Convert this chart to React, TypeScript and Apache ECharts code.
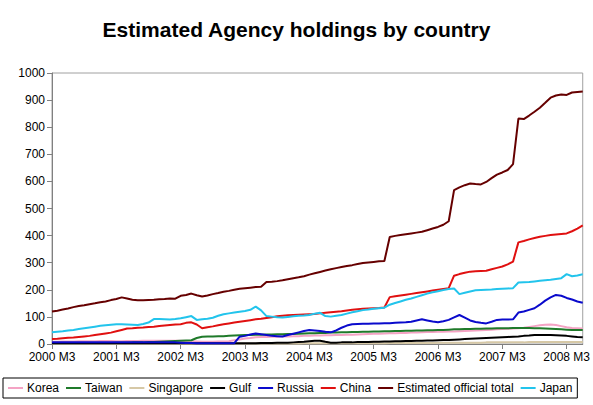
import React, { useEffect, useRef } from "react";
import * as echarts from "echarts";

// Monthly observations, 2000 M3 .. 2008 M6 (USD bn)
const START_YEAR = 2000;
const START_MONTH = 3;
const MONTHS = 100;
const months: string[] = [];
for (let i = 0; i < MONTHS; i++) {
  const m = START_MONTH - 1 + i;
  months.push(`${START_YEAR + Math.floor(m / 12)} M${(m % 12) + 1}`);
}

const korea = [
  8, 8, 9, 9, 9, 10, 10, 10, 10, 11,
  11, 11, 10, 10, 11, 11, 11, 12, 12, 12,
  12, 12, 12, 12, 12, 11, 10, 9, 8, 8,
  8, 9, 9, 10, 14, 17, 20, 22, 25, 26,
  26, 27, 27, 28, 28, 29, 29, 30, 30, 31,
  31, 32, 32, 33, 33, 34, 34, 35, 36, 37,
  38, 38, 39, 40, 40, 41, 41, 42, 42, 43,
  44, 44, 45, 45, 46, 46, 47, 48, 49, 50,
  51, 52, 53, 54, 55, 56, 57, 58, 60, 63,
  66, 69, 71, 72, 70, 66, 62, 59, 58, 57,
];

const taiwan = [
  2, 2, 2, 3, 3, 3, 3, 4, 4, 4,
  4, 4, 5, 5, 5, 6, 6, 6, 7, 7,
  8, 9, 10, 11, 12, 13, 14, 22, 27, 28,
  28, 29, 29, 30, 31, 32, 33, 33, 34, 34,
  35, 35, 36, 36, 37, 37, 38, 39, 40, 40,
  41, 41, 42, 42, 43, 43, 44, 44, 45, 45,
  46, 46, 47, 47, 48, 48, 49, 49, 50, 50,
  51, 51, 52, 52, 53, 54, 54, 55, 55, 56,
  56, 57, 57, 58, 58, 58, 59, 59, 59, 59,
  58, 58, 57, 56, 55, 54, 53, 52, 52, 52,
];

const singapore = [
  1, 1, 1, 1, 1, 1, 1, 1, 1, 1,
  1, 1, 1, 1, 1, 1, 1, 1, 1, 1,
  1, 1, 1, 1, 1, 1, 1, 2, 2, 2,
  2, 2, 2, 2, 2, 2, 2, 2, 2, 2,
  2, 2, 2, 2, 2, 2, 2, 3, 3, 3,
  3, 3, 3, 3, 3, 3, 3, 3, 3, 3,
  3, 3, 3, 4, 4, 4, 4, 4, 4, 4,
  4, 4, 5, 5, 5, 5, 5, 5, 5, 5,
  5, 6, 6, 6, 6, 6, 6, 6, 6, 7,
  7, 7, 7, 7, 7, 7, 7, 7, 7, 7,
];

const gulf = [
  3, 3, 3, 3, 3, 3, 3, 3, 3, 3,
  3, 3, 3, 3, 3, 3, 3, 3, 3, 3,
  3, 3, 3, 3, 3, 3, 3, 3, 3, 3,
  3, 3, 3, 3, 3, 3, 3, 3, 3, 4,
  4, 4, 5, 5, 5, 6, 7, 8, 10, 12,
  12, 8, 5, 5, 6, 6, 6, 7, 7, 7,
  8, 8, 9, 9, 10, 10, 11, 11, 12, 12,
  13, 13, 14, 15, 15, 16, 17, 18, 19, 20,
  21, 22, 23, 24, 25, 26, 27, 28, 30, 31,
  33, 33, 33, 33, 32, 31, 30, 28, 26, 25,
];

const russia = [
  6, 6, 6, 6, 6, 6, 6, 6, 6, 6,
  6, 6, 6, 6, 6, 6, 6, 6, 6, 6,
  6, 6, 6, 6, 5, 4, 4, 3, 3, 3,
  3, 3, 3, 3, 3, 27, 30, 35, 39, 36,
  33, 30, 29, 28, 33, 38, 43, 48, 52, 50,
  48, 45, 43, 50, 60, 68, 73, 74, 75, 75,
  76, 76, 77, 77, 78, 79, 80, 82, 87, 91,
  87, 83, 80, 84, 89, 98, 107, 97, 87, 81,
  78, 76, 82, 89, 90, 90, 91, 116, 120, 126,
  132, 145, 160, 172, 181, 178, 170, 164, 157, 152,
];

const china = [
  18, 19, 21, 23, 24, 26, 28, 30, 33, 36,
  39, 42, 47, 52, 57, 58, 60, 61, 63, 64,
  66, 68, 70, 72, 73, 78, 80, 72, 58, 62,
  65, 69, 73, 76, 79, 82, 85, 88, 91, 93,
  96, 99, 102, 104, 106, 107, 108, 109, 110, 111,
  113, 115, 117, 119, 121, 124, 126, 128, 130, 131,
  132, 133, 135, 173, 176, 179, 182, 185, 188, 191,
  194, 197, 200, 203, 206, 252, 258, 263, 267, 268,
  269, 270, 276, 281, 286, 294, 304, 375, 380, 386,
  391, 396, 399, 402, 404, 406, 408, 416, 426, 438,
];

const officialTotal = [
  120, 123, 127, 131, 136, 140, 143, 147, 150, 154,
  157, 162, 166, 172, 168, 163, 161, 161, 162, 163,
  165, 166, 168, 167, 178, 181, 186, 180, 175, 179,
  184, 188, 193, 196, 200, 204, 206, 208, 210, 211,
  229, 230, 232, 235, 239, 243, 246, 250, 256, 261,
  266, 271, 276, 280, 284, 288, 291, 295, 299, 301,
  303, 305, 306, 395, 399, 402, 405, 408, 411, 414,
  420, 426, 432, 440, 453, 568, 578, 586, 592, 590,
  589, 598, 612, 625, 633, 642, 664, 832, 830, 843,
  857, 872, 890, 909, 917, 921, 919, 928, 930, 932,
];

const japan = [
  43, 45, 47, 50, 52, 55, 58, 61, 64, 67,
  69, 71, 73, 73, 72, 71, 70, 74, 79, 92,
  92, 91, 90, 92, 95, 99, 103, 89, 91, 93,
  97, 104, 110, 113, 116, 119, 122, 126, 138, 124,
  103, 101, 99, 98, 100, 102, 104, 105, 107, 112,
  115, 103, 101, 104, 107, 112, 117, 121, 125, 127,
  130, 132, 134, 145, 151, 157, 163, 168, 174, 180,
  186, 191, 195, 199, 203, 205, 184, 189, 194, 198,
  199, 200, 201, 203, 204, 205, 206, 227, 228, 229,
  231, 233, 235, 237, 240, 243, 258, 250, 253, 257,
];

const seriesDefs = [
  { name: "Korea", data: korea, color: "#F4A3C4" },
  { name: "Taiwan", data: taiwan, color: "#1F7A2A" },
  { name: "Singapore", data: singapore, color: "#D6C8A6" },
  { name: "Gulf", data: gulf, color: "#000000" },
  { name: "Russia", data: russia, color: "#0A0ACC" },
  { name: "China", data: china, color: "#E01010" },
  { name: "Estimated official total", data: officialTotal, color: "#660000" },
  { name: "Japan", data: japan, color: "#22C4EC" },
];

const FONT = 'Arial, "Liberation Sans", sans-serif';

export default function App() {
  const ref = useRef<HTMLDivElement>(null);

  useEffect(() => {
    if (!ref.current) return;
    const chart = echarts.init(ref.current, undefined, { renderer: "svg" });
    chart.setOption({
      animation: false,
      backgroundColor: "#ffffff",
      textStyle: { fontFamily: FONT },
      title: {
        text: "Estimated Agency holdings by country",
        left: "center",
        top: 14,
        textStyle: { fontFamily: FONT, fontSize: 21, fontWeight: "bold", color: "#000" },
      },
      legend: {
        left: 3,
        bottom: 7,
        orient: "horizontal",
        borderColor: "#000",
        borderWidth: 1,
        padding: [4, 5],
        itemGap: 7,
        itemWidth: 15,
        itemHeight: 2,
        icon: "rect",
        textStyle: { fontFamily: FONT, fontSize: 12, color: "#000", padding: [0, 0, 0, -1] },
        data: seriesDefs.map((s) => s.name),
      },
      grid: {
        left: 52,
        right: 10,
        top: 73,
        bottom: 61,
        show: true,
        borderColor: "#A0A0A0",
        borderWidth: 1,
        containLabel: false,
      },
      xAxis: {
        type: "category",
        data: months,
        boundaryGap: false,
        axisLine: { lineStyle: { color: "#808080", width: 1 } },
        axisTick: { interval: 11, length: 5, lineStyle: { color: "#808080" } },
        axisLabel: { interval: 11, color: "#000", fontSize: 12, fontFamily: FONT, margin: 7 },
        splitLine: { show: false },
      },
      yAxis: {
        type: "value",
        min: 0,
        max: 1000,
        interval: 100,
        axisLine: { show: true, lineStyle: { color: "#808080", width: 1 } },
        axisTick: { show: true, length: 5, lineStyle: { color: "#808080" } },
        axisLabel: {
          color: "#000",
          fontSize: 12,
          fontFamily: FONT,
          margin: 7,
          formatter: (v: number) => String(v),
        },
        splitLine: { show: false },
      },
      series: seriesDefs.map((s) => ({
        name: s.name,
        type: "line",
        data: s.data,
        symbol: "none",
        showSymbol: false,
        color: s.color,
        lineStyle: { color: s.color, width: 2 },
      })),
    });
    return () => chart.dispose();
  }, []);

  return (
    <div
      ref={ref}
      style={{ position: "absolute", left: 0, top: 0, width: 593, height: 405 }}
    />
  );
}
